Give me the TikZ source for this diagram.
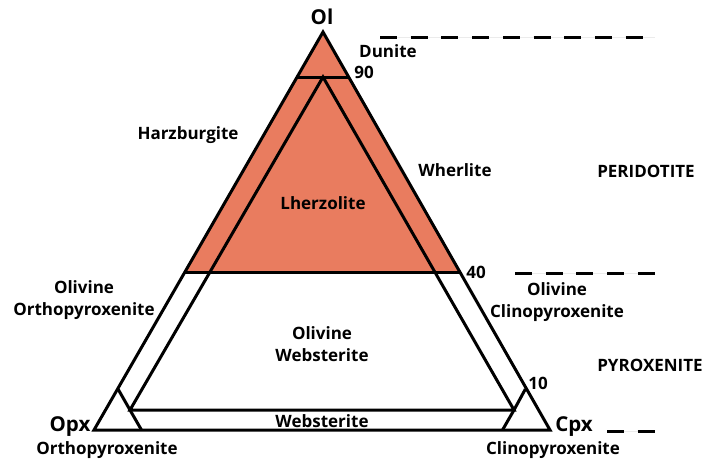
\documentclass[tikz,border=0pt]{standalone}
\usepackage{fontspec}
\setmainfont{Open Sans}
\usetikzlibrary{calc}
\definecolor{salmon}{RGB}{233,124,95}
\tikzset{
  lbl/.style={font=\bfseries\fontsize{17}{22.5}\selectfont, inner sep=0pt, align=center},
  big/.style={font=\bfseries\fontsize{20.5}{22}\selectfont, inner sep=0pt},
  edge/.style={line width=3pt, line join=miter, line cap=butt},
  dashln/.style={line width=3pt, dash pattern=on 17pt off 13.7pt},
  faint/.style={line width=0.6pt, black!8}
}
\begin{document}
\begin{tikzpicture}[x=1pt,y=-1pt]
\useasboundingbox (0,0) rectangle (705,459);
% vertices
\coordinate (A) at (323,32);
\coordinate (L) at (94,430);
\coordinate (R) at (550,430);
\coordinate (N1) at ($(A)!0.1131!(L)$);
\coordinate (N2) at ($(A)!0.1131!(R)$);
\coordinate (F1) at ($(A)!0.6055!(L)$);
\coordinate (F2) at ($(A)!0.6055!(R)$);
\coordinate (IA) at (323,77);
\coordinate (IL) at (130,410);
\coordinate (IR) at (514,410);
\coordinate (CL1) at (118,389);
\coordinate (CL2) at (141.5,430);
\coordinate (CR1) at (525.4,389);
\coordinate (CR2) at (502.5,430);
% fill
\fill[salmon] (A) -- (F1) -- (F2) -- cycle;
% lines
\draw[edge] (N1) -- (N2);
\draw[edge] (F1) -- (F2);
\draw[edge] (IA) -- (IL) -- (IR) -- cycle;
\draw[edge] (CL1) -- (IL) -- (CL2);
\draw[edge] (CR1) -- (IR) -- (CR2);
\draw[edge] (A) -- (L) -- (R) -- cycle;
% dashed boundaries
\coordinate (D1a) at (380,37); \coordinate (D1b) at (643,37); \coordinate (D1c) at (655,37);
\coordinate (D2a) at (515,273); \coordinate (D2b) at (655,273);
\coordinate (D3a) at (607,431); \coordinate (D3b) at (655,431);
\draw[faint] (D1a) -- (D1c);
\draw[faint] (D2a) -- (D2b);
\draw[faint] (D3a) -- (D3b);
\draw[dashln] (D1a) -- (D1b);
\draw[dashln] (D2a) -- (D2b);
\draw[dashln] (D3a) -- (D3b);
% labels
\node[big] (tOl) at (322,17) {Ol};
\node[big] (tOpx) at (70,427) {Opx};
\node[big] (tCpx) at (574,427) {Cpx};
\node[lbl] (tDun) at (388,51) {Dunite};
\node[lbl] (t90) at (364,72) {90};
\node[lbl] (tHar) at (188,135) {Harzburgite};
\node[lbl] (tWhe) at (455,170) {Wherlite};
\node[lbl] (tPer) at (646,171) {PERIDOTITE};
\node[lbl] (tLhe) at (323,203) {Lherzolite};
\node[lbl] (t40) at (476,272) {40};
\node[lbl] (tOOp) at (84,300) {Olivine\\Orthopyroxenite};
\node[lbl] (tOCp) at (557,302) {Olivine\\Clinopyroxenite};
\node[lbl] (tOWe) at (322,344) {Olivine\\Websterite};
\node[lbl] (tPyr) at (650,365) {PYROXENITE};
\node[lbl] (t10) at (538,383) {10};
\node[lbl] (tWeb) at (322,421) {Websterite};
\node[lbl] (tOrt) at (107,450) {Orthopyroxenite};
\node[lbl] (tCli) at (553,450) {Clinopyroxenite};
\end{tikzpicture}
\end{document}
